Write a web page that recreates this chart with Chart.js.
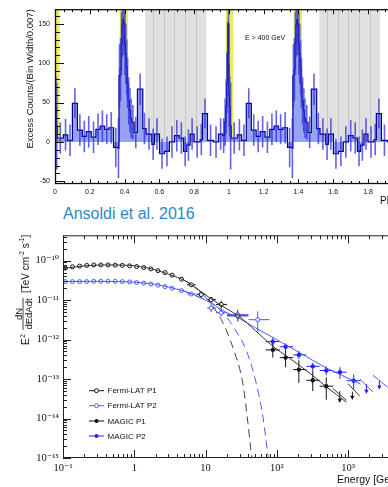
<!DOCTYPE html>
<html lang="en">
<head>
<meta charset="UTF-8">
<title>Phaseogram and SED</title>
<style>
  html, body { margin: 0; padding: 0; background: #fff; overflow: hidden; }
  #wrap { position: relative; width: 388px; height: 487px; overflow: hidden; }
  #phase { position: absolute; left: 0; top: 0; }
  #sed { position: absolute; left: 0; top: 225px; }
  #ref {
    position: absolute; left: 63px; top: 205px; margin: 0;
    font: 16px/18px "Liberation Sans", Arial, sans-serif; color: #2a8ac6;
  }
</style>
</head>
<body>
<div id="wrap">
  <canvas id="phase" width="420" height="205"></canvas>
  <div id="ref">Ansoldi et al. 2016</div>
  <canvas id="sed" width="410" height="262"></canvas>
</div>

<script src="https://cdn.jsdelivr.net/npm/chart.js"></script>
<script>
// ---- phaseogram (one rotation, shown twice like the original) ----
const binEdges = [0.000,0.003,0.007,0.013,0.048,0.073,0.100,0.129,0.157,0.180,
                  0.208,0.235,0.260,0.285,0.310,0.337,0.362,0.368,0.374,0.380,
                  0.385,0.390,0.395,0.400,0.405,0.410,0.415,0.420,0.428,0.434,
                  0.441,0.455,0.474,0.505,0.524,0.557,0.572,0.601,0.630,0.658,
                  0.687,0.714,0.739,0.758,0.777,0.800,0.835,0.848,0.877,0.912,
                  0.940,0.965,0.975,0.982,0.987,0.991,0.995];
const binCounts = [60,45,20,5,9,2,49,15,7,13,
                   6,16,20,16,18,-7,-8,84,92,125,
                   148,155,150,125,112,95,75,52,40,30,
                   25,12,67,17,10,-3,10,-15,-12,0,
                   8,5,-12,-4,10,0,3,36,2,0,
                   10,8,25,45,75,113,150];
const binErrors = [40,38,55,20,20,20,19,20,20,20,
                   20,20,20,19,20,25,38,40,40,40,
                   40,40,40,40,38,35,32,30,28,25,
                   22,20,20,20,20,20,20,19,19,20,
                   20,20,19,20,20,20,20,19,20,20,
                   20,22,30,35,38,40,40];
const rotations = [0, 1];
const offPulse = [0.52, 0.87];
const offPulseLines = [0.562, 0.625, 0.686, 0.75, 0.81];
const peak1Band = [-0.017, 0.026];
const peak2Band = [0.372, 0.42];
const phaseTickLabels = ['0','0.2','0.4','0.6','0.8','1','1.2','1.4','1.6','1.8','2'];
const countTickLabels = ['-50','0','50','100','150'];

// ---- SED ----
const fermiP1E = [0.108,0.136,0.171,0.215,0.27,0.34,0.43,0.54,0.68,0.86,1.08,1.36,1.71,2.15,2.7,3.4,4.6,6.3,8.7,12,16.6,28.5];
const fermiP1F = [6.5e-11,7.0e-11,7.3e-11,7.6e-11,7.8e-11,7.8e-11,7.8e-11,7.7e-11,7.6e-11,7.4e-11,7.1e-11,
                  6.7e-11,6.2e-11,5.6e-11,5.0e-11,4.3e-11,3.4e-11,2.45e-11,1.38e-11,1.03e-11,7.8e-12,4.0e-12];
const fermiP1ELo = [null,null,null,null,null,null,null,null,null,null,null,null,null,null,null,null,null,5.5,7.5,10.5,14,20];
const fermiP1EHi = [null,null,null,null,null,null,null,null,null,null,null,null,null,null,null,null,null,7.3,10,14,20,40];
const fermiP1FLo = [null,null,null,null,null,null,null,null,null,null,null,null,null,null,null,null,null,2.2e-11,1.2e-11,8.5e-12,6.2e-12,2.9e-12];
const fermiP1FHi = [null,null,null,null,null,null,null,null,null,null,null,null,null,null,null,null,null,2.7e-11,1.55e-11,1.2e-11,9.5e-12,5.3e-12];

const fermiP2E = [0.108,0.136,0.171,0.215,0.27,0.34,0.43,0.54,0.68,0.86,1.08,1.36,1.71,2.15,2.7,3.4,4.6,6.3,8.7,12,16.6,28,54];
const fermiP2F = [2.95e-11,2.95e-11,2.95e-11,2.95e-11,3.0e-11,3.0e-11,3.0e-11,3.0e-11,2.95e-11,2.9e-11,2.8e-11,
                  2.7e-11,2.55e-11,2.4e-11,2.2e-11,2.0e-11,1.75e-11,1.43e-11,1.43e-11,6.3e-12,4.8e-12,4.3e-12,3.2e-12];
const fermiP2ELo = [null,null,null,null,null,null,null,null,null,null,null,null,null,null,null,null,null,5.5,7.5,10.5,14,20,40];
const fermiP2EHi = [null,null,null,null,null,null,null,null,null,null,null,null,null,null,null,null,null,7.3,10,14,20,40,79];
const fermiP2FLo = [null,null,null,null,null,null,null,null,null,null,null,null,null,null,null,null,null,1.3e-11,1.2e-11,5e-12,3.8e-12,3.0e-12,1.5e-12];
const fermiP2FHi = [null,null,null,null,null,null,null,null,null,null,null,null,null,null,null,null,null,1.6e-11,1.7e-11,8e-12,6.2e-12,5.8e-12,5.2e-12];

const magicP1E = [88,133,204,320,495];
const magicP1F = [5.5e-13,3.5e-13,1.74e-13,9.3e-14,6.6e-14];
const magicP1ELo = [70,110,170,260,400];
const magicP1EHi = [110,170,260,400,620];
const magicP1FLo = [3.5e-13,2.0e-13,8e-14,5e-14,3e-14];
const magicP1FHi = [8.5e-13,5.5e-13,3e-13,1.6e-13,1.1e-13];

const magicP2E = [88,133,204,320,495,770,1200];
const magicP2F = [8.9e-13,6.6e-13,4.1e-13,2.1e-13,1.65e-13,1.5e-13,9.1e-14];
const magicP2ELo = [70,110,170,260,400,620,960];
const magicP2EHi = [110,170,260,400,620,960,1500];
const magicP2FLo = [7e-13,5.3e-13,3.2e-13,1.6e-13,1.25e-13,1.0e-13,5.5e-14];
const magicP2FHi = [1.1e-12,8e-13,5.2e-13,2.6e-13,2.1e-13,2.0e-13,1.3e-13];

const p1CurveE = [0.1,0.2,0.4,0.7,1,1.5,2,3,4,5,6,8,10,15,20,30,50,88,150,300,500,950];
const p1CurveF = [6.3e-11,7.4e-11,7.8e-11,7.7e-11,7.4e-11,6.6e-11,5.8e-11,4.6e-11,3.8e-11,3.2e-11,2.6e-11,
                  1.8e-11,1.35e-11,8.3e-12,6.0e-12,3.8e-12,1.7e-12,6.8e-13,3.4e-13,1.35e-13,6.3e-14,2.6e-14];
const p2CurveE = [0.1,0.3,0.6,1,2,3,5,7,10,15,20,30,50,100,200,500,1000,1500];
const p2CurveF = [2.95e-11,3.0e-11,2.95e-11,2.85e-11,2.5e-11,2.15e-11,1.7e-11,1.35e-11,1.0e-11,6.5e-12,4.8e-12,
                  3.4e-12,2.0e-12,1.0e-12,4.9e-13,1.9e-13,1.05e-13,7.5e-14];
const cut1E = [5,7,10.2,12.6,17.5,24.2,33.4,39.4,44.5];
const cut1F = [3.2e-11,2.25e-11,1.14e-11,7.1e-12,2.7e-12,6.3e-13,7.7e-14,7.6e-15,1e-15];
const cut2E = [5,8,11.5,17.5,24.2,37.5,51.6,63.9,76];
const cut2F = [1.7e-11,1.2e-11,9.3e-12,4.8e-12,2.2e-12,5.2e-13,7.7e-14,1.1e-14,1e-15];

const ulSeg1E = [610,950,975,1000,1460];
const ulSeg1F = [5.8e-14,2.9e-14,null,7.6e-14,3.7e-14];
const ulSeg2E = [1460,2240,2240,2240,3560];
const ulSeg2F = [1.0e-13,4.7e-14,null,1.25e-13,6.3e-14];
const ulP1E = [765,1150];
const ulP1Top = [4.9e-14,4.8e-14];
const ulP1Tip = [2.6e-14,3.1e-14];
const ulP2E = [1810,2750];
const ulP2Top = [7.5e-14,9.0e-14];
const ulP2Tip = [4.4e-14,5.6e-14];

const legendLabels = ['Fermi-LAT P1','Fermi-LAT P2','MAGIC P1','MAGIC P2'];
const sedXLabels = ['10\u207B\u00B9','1','10','10\u00B2','10\u00B3'];
const sedYLabels = ['10\u207B\u00B9\u2075','10\u207B\u00B9\u2074','10\u207B\u00B9\u00B3','10\u207B\u00B9\u00B2','10\u207B\u00B9\u00B9','10\u207B\u00B9\u2070'];

const SANS = "'Liberation Sans', Arial, sans-serif";
const SERIF = "'Liberation Serif', 'DejaVu Serif', serif";
const BLACK = '#111';
const BLUE = '#2424f0';
const BLUE_LINE = '#4b5cff';

// inward tick marks on all four sides + frame
const frameTicks = {
  id: 'frameTicks',
  afterDatasetsDraw(chart, args, o) {
    const ctx = chart.ctx, a = chart.chartArea, sx = chart.scales.x, sy = chart.scales.y;
    ctx.save();
    ctx.strokeStyle = o.color;
    ctx.lineWidth = 1;
    ctx.beginPath();
    sx.ticks.forEach(t => {
      const p = Math.round(sx.getPixelForValue(t.value)) + 0.5;
      const len = t.big ? o.xMajor : o.xMinor;
      ctx.moveTo(p, a.bottom); ctx.lineTo(p, a.bottom - len);
      ctx.moveTo(p, a.top); ctx.lineTo(p, a.top + len);
    });
    sy.ticks.forEach(t => {
      const p = Math.round(sy.getPixelForValue(t.value)) + 0.5;
      const len = t.big ? o.yMajor : o.yMinor;
      ctx.moveTo(a.left, p); ctx.lineTo(a.left + len, p);
      ctx.moveTo(a.right, p); ctx.lineTo(a.right - len, p);
    });
    ctx.stroke();
    ctx.lineWidth = o.frame;
    ctx.strokeRect(a.left + 0.5, a.top + 0.5, a.right - a.left - 1, a.bottom - a.top - 1);
    ctx.restore();
  }
};

function clipArea(ctx, a) {
  ctx.beginPath();
  ctx.rect(a.left, a.top, a.right - a.left, a.bottom - a.top);
  ctx.clip();
}

// ---------------- top: phaseogram ----------------
const histPoints = [];
const histErrs = [];
rotations.forEach(p => {
  binEdges.forEach((e, i) => {
    const next = i + 1 < binEdges.length ? binEdges[i + 1] : 1;
    histPoints.push({x: e + p, y: binCounts[i]});
    histErrs.push({x: (e + next) / 2 + p, lo: binCounts[i] - binErrors[i], hi: binCounts[i] + binErrors[i]});
  });
});
histPoints.push({x: 2, y: binCounts[binCounts.length - 1]});

const phaseBands = {
  id: 'phaseBands',
  beforeDatasetsDraw(chart) {
    const {ctx, chartArea: a, scales: {x, y}} = chart;
    const y0 = y.getPixelForValue(0);
    ctx.save();
    clipArea(ctx, a);
    const box = (lo, hi, col) => {
      const l = x.getPixelForValue(lo), r = x.getPixelForValue(hi);
      ctx.fillStyle = col;
      ctx.fillRect(l, a.top, r - l, y0 - a.top);
    };
    [-1, 0, 1].forEach(p => {
      box(offPulse[0] + p, offPulse[1] + p, '#e0e0e0');
      ctx.strokeStyle = '#c6c6c6';
      ctx.lineWidth = 1;
      ctx.beginPath();
      offPulseLines.forEach(v => {
        const px = Math.round(x.getPixelForValue(v + p)) + 0.5;
        ctx.moveTo(px, a.top); ctx.lineTo(px, y0);
      });
      ctx.stroke();
      box(peak1Band[0] + p + 1, peak1Band[1] + p + 1, '#ecec55');
      box(peak2Band[0] + p, peak2Band[1] + p, '#ecec55');
    });
    ctx.restore();
  }
};

const histErrorBars = {
  id: 'histErrorBars',
  afterDatasetsDraw(chart) {
    const {ctx, chartArea: a, scales: {x, y}} = chart;
    ctx.save();
    clipArea(ctx, a);
    ctx.strokeStyle = 'rgba(40,40,215,0.72)';
    ctx.lineWidth = 1.6;
    ctx.beginPath();
    histErrs.forEach(e => {
      const px = x.getPixelForValue(e.x);
      ctx.moveTo(px, y.getPixelForValue(e.lo));
      ctx.lineTo(px, y.getPixelForValue(e.hi));
    });
    ctx.stroke();
    ctx.restore();
  }
};

const phaseTitles = {
  id: 'phaseTitles',
  afterDraw(chart) {
    const ctx = chart.ctx, a = chart.chartArea;
    ctx.save();
    ctx.fillStyle = '#111';
    ctx.font = '9.5px ' + SANS;
    ctx.translate(33, a.top);
    ctx.rotate(-Math.PI / 2);
    ctx.textAlign = 'right';
    ctx.textBaseline = 'alphabetic';
    ctx.fillText('Excess Counts/(Bin Width/0.007)', 0, 0);
    ctx.restore();
    ctx.save();
    ctx.fillStyle = '#111';
    ctx.font = '10px ' + SANS;
    ctx.fillText('Phase', 380, 204);
    ctx.font = '7px ' + SANS;
    ctx.fillText('E > 400 GeV', 245, 40);
    ctx.restore();
  }
};

new Chart(document.getElementById('phase'), {
  type: 'line',
  data: {
    datasets: [{
      data: histPoints,
      stepped: true,
      fill: {value: 0},
      backgroundColor: 'rgb(150,162,244)',
      borderColor: 'rgb(0,0,140)',
      borderWidth: 1.2,
      pointRadius: 0
    }]
  },
  options: {
    responsive: false,
    animation: false,
    events: [],
    layout: {padding: {top: 8, right: 12, left: 0, bottom: 0}},
    plugins: {
      legend: {display: false},
      tooltip: {enabled: false},
      frameTicks: {color: '#111', frame: 1.3, xMajor: 5, xMinor: 3, yMajor: 9, yMinor: 5}
    },
    scales: {
      x: {
        type: 'linear', min: 0, max: 2.03, bounds: 'data',
        grid: {display: false, drawTicks: false}, border: {display: false},
        afterBuildTicks: s => {
          const t = [];
          for (let k = 0; k <= 40; k++) t.push({value: k / 20, big: k % 4 === 0});
          s.ticks = t;
        },
        afterFit: s => { s.height = 21; },
        ticks: {
          autoSkip: false, maxRotation: 0, padding: 4, color: '#111',
          font: {family: SANS, size: 7},
          callback: (v, i) => (i % 4 === 0 ? phaseTickLabels[i / 4] : '')
        }
      },
      y: {
        type: 'linear', min: -53.4, max: 168.5, bounds: 'data',
        grid: {display: false, drawTicks: false}, border: {display: false},
        afterBuildTicks: s => {
          const t = [];
          for (let k = -5; k <= 16; k++) t.push({value: k * 10, big: k % 5 === 0});
          s.ticks = t;
        },
        afterFit: s => { s.width = 55; },
        ticks: {
          autoSkip: false, padding: 5, color: '#111',
          font: {family: SANS, size: 7},
          callback: (v, i) => (i % 5 === 0 ? countTickLabels[i / 5] : '')
        }
      }
    }
  },
  plugins: [phaseBands, histErrorBars, frameTicks, phaseTitles]
});

// ---------------- bottom: SED ----------------
const pts = (xs, ys) => xs.map((v, i) => ({x: v, y: ys[i]}));
const errs = (xs, ys, xl, xh, yl, yh) => xs.map((v, i) => ({x: v, y: ys[i], xl: xl[i], xh: xh[i], yl: yl[i], yh: yh[i]}));

const sedErrorBars = {
  id: 'sedErrorBars',
  beforeDatasetsDraw(chart) {
    const {ctx, chartArea: a, scales: {x, y}} = chart;
    ctx.save();
    clipArea(ctx, a);
    ctx.lineWidth = 1;
    chart.data.datasets.forEach(ds => {
      if (!ds.errs) return;
      ctx.strokeStyle = ds.borderColor;
      ctx.beginPath();
      ds.errs.forEach(e => {
        const px = x.getPixelForValue(e.x), py = y.getPixelForValue(e.y);
        if (e.xl != null) { ctx.moveTo(x.getPixelForValue(e.xl), py); ctx.lineTo(x.getPixelForValue(e.xh), py); }
        if (e.yl != null) { ctx.moveTo(px, y.getPixelForValue(e.yl)); ctx.lineTo(px, y.getPixelForValue(e.yh)); }
      });
      ctx.stroke();
    });
    // upper limits
    const arrows = (es, tops, tips, col) => {
      ctx.strokeStyle = col; ctx.fillStyle = col;
      es.forEach((e, i) => {
        const px = x.getPixelForValue(e), p0 = y.getPixelForValue(tops[i]), p1 = y.getPixelForValue(tips[i]);
        ctx.beginPath(); ctx.moveTo(px, p0); ctx.lineTo(px, p1); ctx.stroke();
        ctx.beginPath(); ctx.moveTo(px - 2.2, p1 - 3.5); ctx.lineTo(px + 2.2, p1 - 3.5); ctx.lineTo(px, p1 + 0.5); ctx.closePath(); ctx.fill();
      });
    };
    arrows(ulP1E, ulP1Top, ulP1Tip, BLACK);
    arrows(ulP2E, ulP2Top, ulP2Tip, BLUE);
    ctx.restore();
  }
};

const sedText = {
  id: 'sedText',
  afterDraw(chart) {
    const ctx = chart.ctx, a = chart.chartArea;
    ctx.save();
    ctx.fillStyle = '#111';
    ctx.font = '10.5px ' + SANS;
    ctx.fillText('Energy [GeV]', 337, 258);

    // legend
    ctx.font = '8px ' + SANS;
    ctx.textBaseline = 'middle';
    const rows = [165.7, 180.7, 196, 211];
    const cols = [BLACK, BLUE_LINE, BLACK, BLUE];
    rows.forEach((ry, i) => {
      ctx.strokeStyle = cols[i]; ctx.lineWidth = 1;
      ctx.beginPath(); ctx.moveTo(a.left + 26, ry); ctx.lineTo(a.left + 41, ry); ctx.stroke();
      ctx.beginPath(); ctx.arc(a.left + 33.5, ry, i < 2 ? 2 : 2, 0, Math.PI * 2);
      if (i < 2) { ctx.fillStyle = '#fff'; ctx.fill(); ctx.stroke(); }
      else { ctx.fillStyle = cols[i]; ctx.fill(); }
      ctx.fillStyle = '#111';
      ctx.fillText(legendLabels[i], a.left + 44.5, ry + 0.5);
    });

    // y title: E^2 dN/dEdAdt [TeV cm^-2 s^-1], rotated
    ctx.textBaseline = 'alphabetic';
    ctx.save();
    ctx.translate(29, 120);
    ctx.rotate(-Math.PI / 2);
    ctx.font = '10px ' + SANS;
    ctx.fillText('E', 0, 0);
    const wE = ctx.measureText('E').width;
    ctx.font = '6.5px ' + SANS;
    ctx.fillText('2', wE + 0.5, -4.5);
    ctx.restore();

    ctx.save();
    ctx.translate(23, 89);
    ctx.rotate(-Math.PI / 2);
    ctx.strokeStyle = '#111'; ctx.lineWidth = 0.8;
    ctx.beginPath(); ctx.moveTo(-16, 0); ctx.lineTo(16, 0); ctx.stroke();
    ctx.font = '9.5px ' + SANS;
    ctx.textAlign = 'center';
    ctx.fillText('dN', 0, -1.5);
    ctx.textBaseline = 'top';
    ctx.fillText('dEdAdt', 0, 1.2);
    ctx.restore();

    ctx.save();
    ctx.translate(28.5, 68);
    ctx.rotate(-Math.PI / 2);
    const runs = [['[TeV cm', 0], ['-2', 1], [' s', 0], ['-1', 1], [']', 0]];
    let cx = 0;
    runs.forEach(([txt, sup]) => {
      ctx.font = (sup ? '6.5px ' : '10px ') + SANS;
      ctx.fillText(txt, cx, sup ? -4.5 : 0);
      cx += ctx.measureText(txt).width;
    });
    ctx.restore();
    ctx.restore();
  }
};

function logTicks(e0, e1, max) {
  const t = [];
  for (let e = e0; e <= e1; e++) {
    for (let m = 1; m <= 9; m++) {
      const v = m * Math.pow(10, e);
      if (v <= max * 1.0001) t.push({value: v, big: m === 1, exp: e});
    }
  }
  return t;
}

new Chart(document.getElementById('sed'), {
  type: 'line',
  data: {
    datasets: [
      {data: pts(p1CurveE, p1CurveF), borderColor: '#333', borderWidth: 1, pointRadius: 0, cubicInterpolationMode: 'monotone'},
      {data: pts(p2CurveE, p2CurveF), borderColor: BLUE_LINE, borderWidth: 1, pointRadius: 0, cubicInterpolationMode: 'monotone'},
      {data: pts(cut1E, cut1F), borderColor: '#444', borderWidth: 1, borderDash: [8, 5], pointRadius: 0, cubicInterpolationMode: 'monotone'},
      {data: pts(cut2E, cut2F), borderColor: BLUE_LINE, borderWidth: 1, borderDash: [8, 5], pointRadius: 0, cubicInterpolationMode: 'monotone'},
      {data: pts(ulSeg1E, ulSeg1F), borderColor: '#333', borderWidth: 1, pointRadius: 0, spanGaps: false},
      {data: pts(ulSeg2E, ulSeg2F), borderColor: BLUE_LINE, borderWidth: 1, pointRadius: 0, spanGaps: false},
      {data: pts(fermiP1E, fermiP1F), showLine: false, borderColor: BLACK,
       pointRadius: 2, pointBackgroundColor: '#fff', pointBorderColor: BLACK, pointBorderWidth: 1,
       errs: errs(fermiP1E, fermiP1F, fermiP1ELo, fermiP1EHi, fermiP1FLo, fermiP1FHi)},
      {data: pts(fermiP2E, fermiP2F), showLine: false, borderColor: BLUE_LINE,
       pointRadius: 2, pointBackgroundColor: '#fff', pointBorderColor: BLUE_LINE, pointBorderWidth: 1,
       errs: errs(fermiP2E, fermiP2F, fermiP2ELo, fermiP2EHi, fermiP2FLo, fermiP2FHi)},
      {data: pts(magicP1E, magicP1F), showLine: false, borderColor: BLACK,
       pointRadius: 2.2, pointBackgroundColor: BLACK, pointBorderColor: BLACK, pointBorderWidth: 0,
       errs: errs(magicP1E, magicP1F, magicP1ELo, magicP1EHi, magicP1FLo, magicP1FHi)},
      {data: pts(magicP2E, magicP2F), showLine: false, borderColor: BLUE,
       pointRadius: 2.2, pointBackgroundColor: BLUE, pointBorderColor: BLUE, pointBorderWidth: 0,
       errs: errs(magicP2E, magicP2F, magicP2ELo, magicP2EHi, magicP2FLo, magicP2FHi)}
    ]
  },
  options: {
    responsive: false,
    animation: false,
    events: [],
    layout: {padding: {top: 8, right: 5, left: 0, bottom: 0}},
    plugins: {
      legend: {display: false},
      tooltip: {enabled: false},
      frameTicks: {color: '#222', frame: 1, xMajor: 8, xMinor: 4, yMajor: 8, yMinor: 4}
    },
    scales: {
      x: {
        type: 'logarithmic', min: 0.1, max: 6300, bounds: 'data',
        grid: {display: false, drawTicks: false}, border: {display: false},
        afterBuildTicks: s => { s.ticks = logTicks(-1, 3, 6300); },
        afterFit: s => { s.height = 29; },
        ticks: {
          autoSkip: false, maxRotation: 0, padding: 4, color: '#111',
          font: {family: SERIF, size: 10.5},
          callback: (v, i, t) => (t[i].big ? sedXLabels[t[i].exp + 1] : '')
        }
      },
      y: {
        type: 'logarithmic', min: 1e-15, max: 4.4e-10, bounds: 'data',
        grid: {display: false, drawTicks: false}, border: {display: false},
        afterBuildTicks: s => { s.ticks = logTicks(-15, -10, 4.4e-10); },
        afterFit: s => { s.width = 63; },
        ticks: {
          autoSkip: false, padding: 4, color: '#111',
          font: {family: SERIF, size: 10.5},
          callback: (v, i, t) => (t[i].big ? sedYLabels[t[i].exp + 15] : '')
        }
      }
    }
  },
  plugins: [sedErrorBars, frameTicks, sedText]
});
</script>
</body>
</html>
